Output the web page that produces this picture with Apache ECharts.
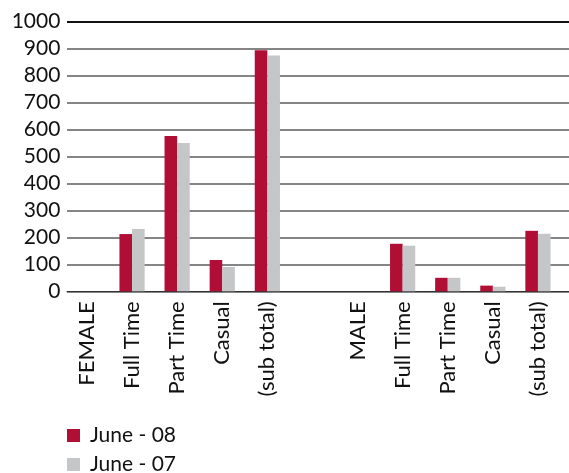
<!DOCTYPE html>
<html>
<head>
<meta charset="utf-8">
<script src="https://cdn.jsdelivr.net/npm/echarts@6/dist/echarts.min.js"></script>
<style>
html,body{margin:0;padding:0;background:#fff;}
#c{width:569px;height:473px;}
</style>
</head>
<body>
<div id="c"></div>
<script>
const categories = ['FEMALE','Full Time','Part Time','Casual','(sub total)','','MALE','Full Time','Part Time','Casual','(sub total)'];
const june08 = [null, 212, 575, 116, 893, null, null, 176, 50, 21, 224];
const june07 = [null, 231, 549, 90, 873, null, null, 169, 50, 17, 213];
const seriesNames = ['June - 08', 'June - 07'];
const yTicks = {min: 0, max: 1000, interval: 100};

const FONT = 'Lato';
const chart = echarts.init(document.getElementById('c'), null, {renderer: 'canvas'});
const gridColors = [];
for (let i = 0; i <= 10; i++) gridColors.push(i === 10 ? '#111' : '#858585');

function legendFor(name, top) {
  return {
    left: 67, top: top, padding: 0,
    itemWidth: 13, itemHeight: 13, itemGap: 10, icon: 'rect',
    textStyle: {fontFamily: FONT, fontSize: 21, color: '#111', lineHeight: 21, padding: [0, 0, 0, 5]},
    data: [name]
  };
}

chart.setOption({
  backgroundColor: '#fff',
  animation: false,
  textStyle: {fontFamily: FONT},
  grid: [
    {left: 64.4, width: 496.1, top: 21.3, height: 270, containLabel: false},
    {left: 67, right: 0, top: 21.3, height: 270, containLabel: false}
  ],
  legend: [legendFor(seriesNames[0], 425), legendFor(seriesNames[1], 454)],
  xAxis: [
    {
      type: 'category', gridIndex: 0, data: categories,
      axisLine: {show: false}, axisTick: {show: false},
      axisLabel: {interval: 0, rotate: 90, margin: 10, fontFamily: FONT, fontSize: 22, color: '#111'}
    },
    {
      type: 'value', gridIndex: 1, min: 0, max: 1,
      axisLine: {show: true, onZero: false, lineStyle: {color: '#333', width: 1}},
      axisTick: {show: false}, axisLabel: {show: false}, splitLine: {show: false}
    }
  ],
  yAxis: [
    {
      type: 'value', gridIndex: 0, min: yTicks.min, max: yTicks.max, interval: yTicks.interval,
      axisLine: {show: false}, axisTick: {show: false}, splitLine: {show: false},
      axisLabel: {margin: 4, fontFamily: FONT, fontSize: 21, color: '#111', formatter: v => String(v)}
    },
    {
      type: 'value', gridIndex: 1, min: yTicks.min, max: yTicks.max, interval: yTicks.interval,
      axisLine: {show: false}, axisTick: {show: false}, axisLabel: {show: false},
      splitLine: {show: true, lineStyle: {color: gridColors, width: 2}}
    }
  ],
  series: [
    {name: seriesNames[0], type: 'bar', xAxisIndex: 0, yAxisIndex: 0, data: june08,
     barWidth: 12.6, barGap: '0%', itemStyle: {color: '#b10e36'}},
    {name: seriesNames[1], type: 'bar', xAxisIndex: 0, yAxisIndex: 0, data: june07,
     barWidth: 12.6, barGap: '0%', itemStyle: {color: '#c5c6c8'}}
  ]
});
</script>
</body>
</html>
